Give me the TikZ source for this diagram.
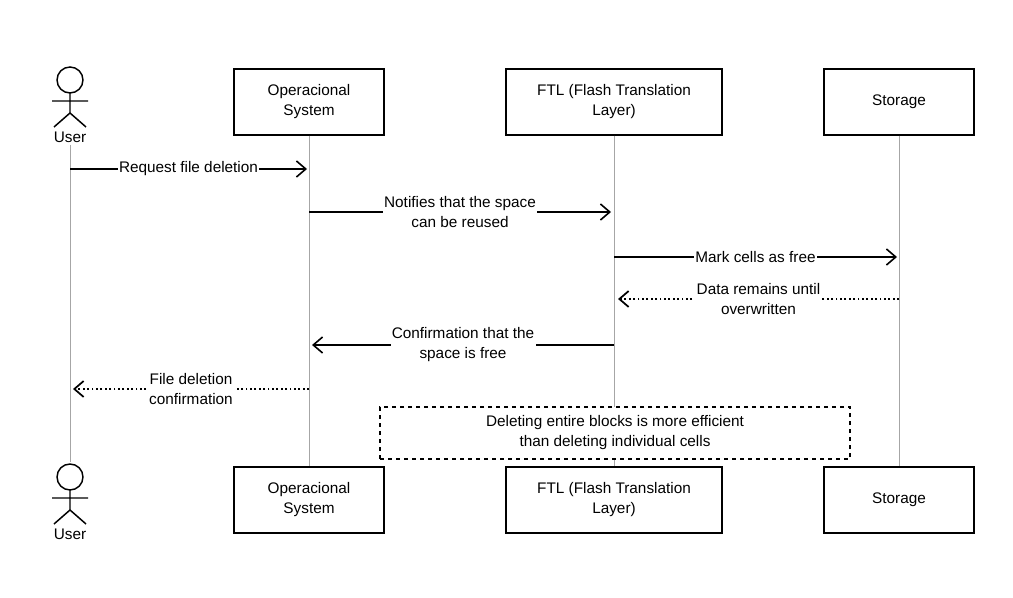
\documentclass[tikz,border=0pt]{standalone}
\usepackage{fontspec}
\setmainfont{Liberation Sans}
\usetikzlibrary{arrows.meta}
\newcommand{\fs}{\fontsize{11.5}{15}\selectfont}
\begin{document}
\begin{tikzpicture}[x=0.75pt,y=-0.75pt,
  box/.style={draw,line width=1.1pt,minimum width=150*0.75pt,minimum height=66*0.75pt,align=center,font=\fs},
  life/.style={draw=gray!70,line width=0.5pt},
  msg/.style={line width=1.2pt,-{Straight Barb[length=7pt,width=12pt]}},
  ret/.style={line width=1.3pt,dotted,-{Straight Barb[length=7pt,width=12pt]}},
  lbl/.style={fill=white,align=center,font=\fs,inner sep=1pt},
  actor/.style={line width=1.1pt}]
\useasboundingbox (0,0) rectangle (1013,598);
% lifelines
\coordinate (u1) at (70,145); \coordinate (u2) at (70,462);
\draw[life] (u1) -- (u2);
\node[box] (os1) at (309,102) {Operacional\\System};
\node[box] (os2) at (309,500) {Operacional\\System};
\node[box,minimum width=216*0.75pt] (ftl1) at (614,102) {FTL (Flash Translation\\Layer)};
\node[box,minimum width=216*0.75pt] (ftl2) at (614,500) {FTL (Flash Translation\\Layer)};
\node[box] (st1) at (899,102) {Storage};
\node[box] (st2) at (899,500) {Storage};
\draw[life] (os1) -- (os2);
\draw[life] (ftl1) -- (ftl2);
\draw[life] (st1) -- (st2);
% actors
\foreach \y/\n in {80/ua,477/ub}{
  \draw[actor,fill=white] (70,\y) circle (13);
  \draw[actor] (70,\y+13) -- (70,\y+33) (52,\y+21) -- (88,\y+21)
    (70,\y+33) -- (54,\y+47) (70,\y+33) -- (86,\y+47);
  \node[font=\fs] (\n) at (70,\y+57) {User};
}
% messages
\coordinate (a1) at (70,169); \coordinate (b1) at (307,169);
\draw[msg] (a1) -- (b1) node[lbl,midway] {Request file deletion};
\coordinate (a2) at (309,212); \coordinate (b2) at (611,212);
\draw[msg] (a2) -- (b2) node[lbl,midway] {Notifies that the space\\can be reused};
\coordinate (a3) at (614,257); \coordinate (b3) at (897,257);
\draw[msg] (a3) -- (b3) node[lbl,midway] {Mark cells as free};
\coordinate (a4) at (899,299); \coordinate (b4) at (618,299);
\draw[ret] (a4) -- (b4) node[lbl,midway] {Data remains until\\overwritten};
\coordinate (a5) at (614,345); \coordinate (b5) at (312,345);
\draw[msg] (a5) -- (b5) node[lbl,midway] {Confirmation that the\\space is free};
\coordinate (a6) at (309,389); \coordinate (b6) at (73,389);
\draw[ret] (a6) -- (b6) node[lbl,midway] {File deletion\\confirmation};
% note
\node[draw,dashed,line width=1.2pt,minimum width=470*0.75pt,minimum height=52*0.75pt,fill=white,align=center,font=\fs] (note) at (615,433) {Deleting entire blocks is more efficient\\than deleting individual cells};
\end{tikzpicture}
\end{document}
